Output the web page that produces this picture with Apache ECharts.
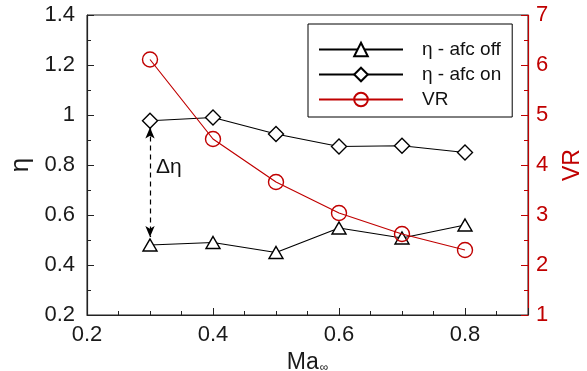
<!DOCTYPE html>
<html>
<head>
<meta charset="utf-8">
<script src="https://cdn.jsdelivr.net/npm/echarts@6/dist/echarts.min.js"></script>
<style>html,body{margin:0;padding:0;background:#fff}#c{width:587px;height:371px}</style>
</head>
<body>
<div id="c"></div>
<script>
const machNumbers = [0.3, 0.4, 0.5, 0.6, 0.7, 0.8];
const etaAfcOff = [0.48, 0.49, 0.45, 0.548, 0.508, 0.56];
const etaAfcOn = [0.977, 0.99, 0.924, 0.874, 0.877, 0.85];
const velocityRatio = [6.11, 4.52, 3.66, 3.04, 2.62, 2.3];
const seriesNames = ['η - afc off', 'η - afc on', 'VR'];
const deltaEtaArrow = [[0.3, 0.95], [0.3, 0.512]];
const deltaEtaLabelAt = [0.33, 0.792];

const RED = '#c00000';
const FONT = 'Liberation Sans, Arial, sans-serif';
const pairs = (ys) => machNumbers.map((x, i) => [x, ys[i]]);

const chart = echarts.init(document.getElementById('c'), null, {renderer: 'canvas'});
chart.setOption({
  animation: false,
  backgroundColor: '#fff',
  grid: {left: 87, right: 59, top: 15, bottom: 56, show: true, borderColor: '#222', borderWidth: 1,
         containLabel: false, outerBoundsMode: 'none'},
  legend: {
    orient: 'vertical', left: 308, top: 24,
    itemWidth: 84, itemHeight: 17, itemGap: 6,
    padding: [16, 11, 8, 10],
    borderColor: '#000', borderWidth: 1, backgroundColor: '#fff',
    textStyle: {fontSize: 19, color: '#111', fontFamily: FONT, padding: [0, 0, 0, 14]},
    data: seriesNames
  },
  xAxis: {
    type: 'value', min: 0.2, max: 0.9, interval: 0.2,
    axisLine: {lineStyle: {color: '#222', width: 1.2}},
    axisTick: {inside: true, length: 7, lineStyle: {color: '#222'}},
    minorTick: {show: true, splitNumber: 4, length: 4, lineStyle: {color: '#222'}},
    splitLine: {show: false},
    axisLabel: {fontSize: 22, color: '#1a1a1a', fontFamily: FONT, margin: 9, showMaxLabel: false},
    name: '{a|Ma}{b|∞}', nameLocation: 'middle', nameGap: 28,
    nameTextStyle: {
      fontFamily: FONT, color: '#1a1a1a',
      rich: {a: {fontSize: 23, fontFamily: FONT, color: '#1a1a1a'},
             b: {fontSize: 12, fontFamily: FONT, color: '#1a1a1a', padding: [10, 0, 0, 1]}}
    }
  },
  yAxis: [{
    type: 'value', min: 0.2, max: 1.4, interval: 0.2,
    axisLine: {show: true, lineStyle: {color: '#222', width: 1.2}},
    axisTick: {inside: true, length: 7, lineStyle: {color: '#222'}},
    minorTick: {show: true, splitNumber: 2, length: 4, lineStyle: {color: '#222'}},
    splitLine: {show: false},
    axisLabel: {fontSize: 22, color: '#1a1a1a', fontFamily: FONT, margin: 12},
    name: 'η', nameLocation: 'middle', nameGap: 52,
    nameTextStyle: {fontSize: 26, color: '#1a1a1a', fontFamily: FONT}
  }, {
    type: 'value', min: 1, max: 7, interval: 1, position: 'right',
    axisLine: {show: true, lineStyle: {color: RED, width: 1.2}},
    axisTick: {inside: true, length: 7, lineStyle: {color: RED}},
    minorTick: {show: true, splitNumber: 2, length: 4, lineStyle: {color: RED}},
    splitLine: {show: false},
    axisLabel: {fontSize: 22, color: RED, fontFamily: FONT, margin: 8},
    name: 'VR', nameLocation: 'middle', nameGap: 33,
    nameTextStyle: {fontSize: 23, color: RED, fontFamily: FONT}
  }],
  series: [{
    name: seriesNames[0], type: 'line', yAxisIndex: 0, data: pairs(etaAfcOff),
    symbol: 'triangle', symbolSize: [14, 12],
    lineStyle: {color: '#000', width: 1.2},
    itemStyle: {color: '#fff', borderColor: '#000', borderWidth: 1.4},
    z: 3,
    markLine: {
      silent: true, symbol: ['arrow', 'arrow'], symbolSize: [7, 11],
      lineStyle: {type: [5, 4], color: '#000', width: 1.2},
      itemStyle: {color: '#000'},
      label: {show: false},
      data: [[{coord: deltaEtaArrow[0]}, {coord: deltaEtaArrow[1]}]]
    },
    markPoint: {
      silent: true, symbol: 'circle', symbolSize: 1,
      itemStyle: {color: 'rgba(0,0,0,0)'},
      label: {show: true, position: 'inside', formatter: 'Δη', fontSize: 21, color: '#111', fontFamily: FONT},
      data: [{coord: deltaEtaLabelAt}]
    }
  }, {
    name: seriesNames[1], type: 'line', yAxisIndex: 0, data: pairs(etaAfcOn),
    symbol: 'diamond', symbolSize: 15,
    lineStyle: {color: '#000', width: 1.2},
    itemStyle: {color: '#fff', borderColor: '#000', borderWidth: 1.4},
    z: 3
  }, {
    name: seriesNames[2], type: 'line', yAxisIndex: 1, data: pairs(velocityRatio),
    symbol: 'circle', symbolSize: 15,
    lineStyle: {color: RED, width: 1.2},
    itemStyle: {color: 'rgba(255,255,255,0)', borderColor: RED, borderWidth: 1.4},
    z: 4
  }]
});
</script>
</body>
</html>
